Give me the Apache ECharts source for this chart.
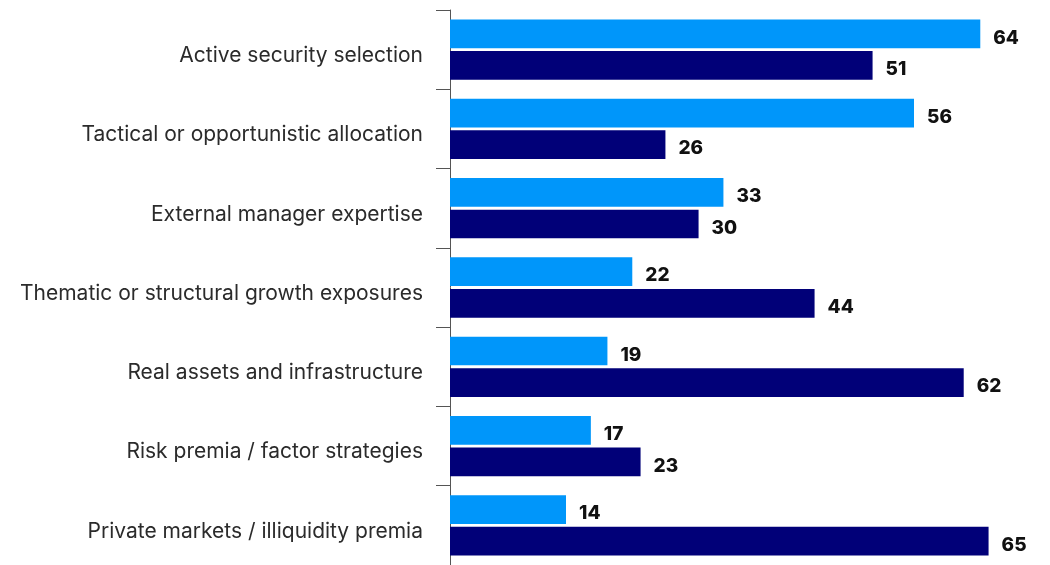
<!DOCTYPE html>
<html>
<head>
<meta charset="utf-8">
<script src="https://cdn.jsdelivr.net/npm/echarts@6/dist/echarts.min.js"></script>
<style>
  html, body { margin: 0; padding: 0; background: #fff; }
  #chart { width: 1050px; height: 565px; }
</style>
</head>
<body>
<div id="chart"></div>
<script>
// Categories, top to bottom
const categories = [
  'Active security selection',
  'Tactical or opportunistic allocation',
  'External manager expertise',
  'Thematic or structural growth exposures',
  'Real assets and infrastructure',
  'Risk premia / factor strategies',
  'Private markets / illiquidity premia'
];
// Two series per category
const seriesA = [64, 56, 33, 22, 19, 17, 14];
const seriesB = [51, 26, 30, 44, 62, 23, 65];

const chart = echarts.init(document.getElementById('chart'));

const valueLabel = {
  show: true,
  position: 'right',
  distance: 13,
  offset: [0, 4],
  color: '#111',
  fontFamily: 'Inter',
  fontWeight: 800,
  fontSize: 19
};

chart.setOption({
  animation: false,
  grid: { left: 450, right: 20, top: 10, height: 560, containLabel: false },
  xAxis: {
    type: 'value',
    min: 0,
    max: 70,
    show: false
  },
  yAxis: {
    type: 'category',
    data: categories,
    inverse: true,
    axisLine: { show: true, lineStyle: { color: '#555', width: 1 } },
    axisTick: { show: true, length: 14, lineStyle: { color: '#555', width: 1 } },
    axisLabel: {
      color: '#2b2b2b',
      fontFamily: 'Inter',
      fontSize: 21,
      margin: 27,
      formatter: (v) => '{t|' + v + '}',
      rich: {
        t: {
          fontFamily: 'Inter',
          fontSize: 21,
          color: '#2b2b2b',
          lineHeight: 26,
          padding: [12, 0, 0, 0]
        }
      }
    }
  },
  series: [
    {
      type: 'bar',
      data: seriesA,
      itemStyle: { color: '#0096FA' },
      barCategoryGap: '24%',
      barGap: '10%',
      label: valueLabel
    },
    {
      type: 'bar',
      data: seriesB,
      itemStyle: { color: '#010078' },
      barCategoryGap: '24%',
      barGap: '10%',
      label: valueLabel
    }
  ]
});
</script>
</body>
</html>
